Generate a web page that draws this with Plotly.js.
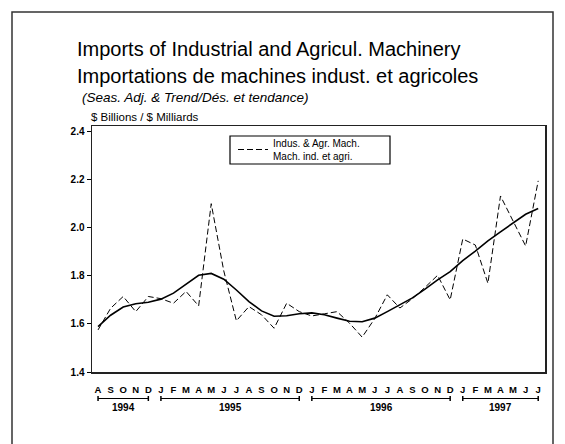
<!DOCTYPE html>
<html>
<head>
<meta charset="utf-8">
<script src="https://cdn.plot.ly/plotly-3.0.1.min.js"></script>
<style>html,body{margin:0;padding:0;background:#fff;}#chart{width:565px;height:444px;}</style>
</head>
<body>
<div id="chart"></div>
<script>
// ---- data ----
const monthLabels = ["A","S","O","N","D",
  "J","F","M","A","M","J","J","A","S","O","N","D",
  "J","F","M","A","M","J","J","A","S","O","N","D",
  "J","F","M","A","M","J","J"];
const yearLabels = ["1994","1995","1996","1997"];
const yearMonthCounts = [5,12,12,7];
const actualValues = [1.575,1.665,1.714,1.651,1.714,
  1.705,1.686,1.735,1.675,2.100,1.820,1.613,1.672,1.638,1.582,1.686,1.651,
  1.633,1.642,1.651,1.603,1.545,1.622,1.721,1.666,1.705,1.752,1.802,1.700,
  1.953,1.928,1.769,2.132,2.025,1.924,2.195];
const trendValues = [1.589,1.636,1.670,1.684,1.690,
  1.703,1.728,1.765,1.802,1.810,1.786,1.741,1.693,1.654,1.632,1.634,1.642,
  1.646,1.638,1.624,1.611,1.609,1.624,1.651,1.679,1.708,1.745,1.783,1.817,
  1.863,1.903,1.945,1.983,2.018,2.056,2.080];
const yTickValues = [1.4,1.6,1.8,2.0,2.2,2.4];
const seriesName = "Indus. & Agr. Mach.<br>Mach. ind. et agri.";
const titleLine1 = "Imports of Industrial and Agricul. Machinery";
const titleLine2 = "Importations de machines indust. et agricoles";
const subtitle = "(Seas. Adj. & Trend/Dés. et tendance)";
const unitsLabel = "$ Billions / $ Milliards";

// ---- layout helpers ----
const W = 565, H = 444;
const M = {l:92, r:20, t:126, b:72};
const PW = W - M.l - M.r, PH = H - M.t - M.b;
const px2x = p => (p - M.l) / PW;
const py2y = p => (H - M.b - p) / PH;

const idx = monthLabels.map((_, i) => i);
const FONT = '"Liberation Sans", Arial, sans-serif';

const traces = [
  {x: idx, y: actualValues, type: 'scatter', mode: 'lines', name: seriesName,
   line: {color: '#000', width: 1, dash: '6px,3px'}, showlegend: true},
  {x: idx, y: trendValues, type: 'scatter', mode: 'lines', name: 'Trend',
   line: {color: '#000', width: 1.6}, showlegend: false}
];

const shapes = [];
const annotations = [];
// outer frame
shapes.push({type:'rect', xref:'paper', yref:'paper', x0:px2x(12), x1:px2x(553), y0:py2y(12), y1:py2y(460),
  line:{color:'#333', width:1.5}, fillcolor:'rgba(0,0,0,0)', layer:'below'});
// legend box
shapes.push({type:'rect', xref:'paper', yref:'paper', x0:px2x(230), x1:px2x(390), y0:py2y(136), y1:py2y(164),
  line:{color:'#000', width:1.2}, fillcolor:'rgba(0,0,0,0)', layer:'above'});
// year brackets
let start = 0;
const yb = py2y(398.5);
const tickH = 2.5 / PH;
yearLabels.forEach((yl, k) => {
  const a = start, b = start + yearMonthCounts[k] - 1;
  shapes.push({type:'line', xref:'x', yref:'paper', x0:a, x1:b, y0:yb, y1:yb, line:{color:'#000', width:1}});
  shapes.push({type:'line', xref:'x', yref:'paper', x0:a, x1:a, y0:yb-tickH, y1:yb+tickH, line:{color:'#000', width:1.5}});
  shapes.push({type:'line', xref:'x', yref:'paper', x0:b, x1:b, y0:yb-tickH, y1:yb+tickH, line:{color:'#000', width:1.5}});
  annotations.push({text:'<b>'+yl+'</b>', xref:'x', yref:'paper', x:(a+b)/2, y:py2y(407.5),
    xanchor:'center', yanchor:'middle', showarrow:false, font:{family:FONT, size:10, color:'#000'}});
  start += yearMonthCounts[k];
});
// titles
annotations.push({text:titleLine1, xref:'paper', yref:'paper', x:px2x(75), y:py2y(49), xanchor:'left', yanchor:'middle',
  showarrow:false, font:{family:FONT, size:20, color:'#000'}});
annotations.push({text:titleLine2, xref:'paper', yref:'paper', x:px2x(75), y:py2y(76), xanchor:'left', yanchor:'middle',
  showarrow:false, font:{family:FONT, size:20, color:'#000'}});
annotations.push({text:'<i>'+subtitle+'</i>', xref:'paper', yref:'paper', x:px2x(80), y:py2y(97), xanchor:'left', yanchor:'middle',
  showarrow:false, font:{family:FONT, size:13.5, color:'#000'}});
annotations.push({text:unitsLabel, xref:'paper', yref:'paper', x:px2x(89), y:py2y(117), xanchor:'left', yanchor:'middle',
  showarrow:false, font:{family:FONT, size:11.5, color:'#000'}});

const layout = {
  width: W, height: H,
  margin: M,
  paper_bgcolor: '#fff', plot_bgcolor: '#fff',
  font: {family: FONT, color: '#000'},
  showlegend: true,
  legend: {x: px2x(233), y: py2y(130), xanchor: 'left', yanchor: 'top',
    borderwidth: 0, bgcolor: 'rgba(0,0,0,0)',
    font: {family: FONT, size: 10, color: '#000'}, tracegroupgap: 0},
  xaxis: {range: [-0.48, 35.54], tickmode: 'array', tickvals: idx, ticktext: monthLabels,
    ticks: 'outside', ticklen: 8, tickcolor: 'rgba(0,0,0,0)', showgrid: false, zeroline: false,
    showline: true, linecolor: '#222', linewidth: 1.5, mirror: true,
    tickfont: {family: FONT, size: 9.5, color: '#000', weight: 'bold'}, fixedrange: true},
  yaxis: {range: [1.4, 2.423], tickmode: 'array', tickvals: yTickValues,
    ticktext: yTickValues.map(v => '<b>' + v.toFixed(1) + '</b>'),
    ticks: 'outside', ticklen: 4, tickcolor: '#000', tickwidth: 1, showgrid: false, zeroline: false,
    showline: true, linecolor: '#222', linewidth: 1.5, mirror: true,
    tickfont: {family: FONT, size: 10, color: '#000'}, fixedrange: true},
  shapes: shapes,
  annotations: annotations
};

Plotly.newPlot('chart', traces, layout, {displayModeBar: false, staticPlot: true});
</script>
</body>
</html>
